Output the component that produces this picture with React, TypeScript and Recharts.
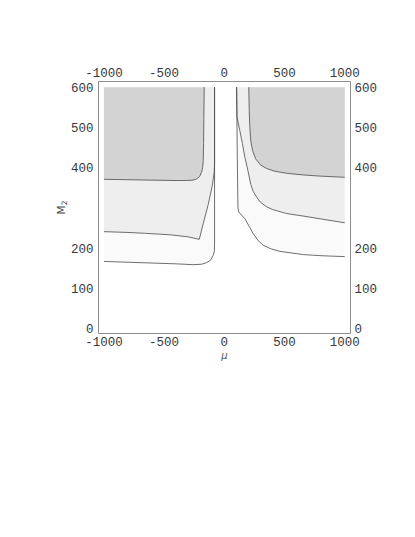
import { Area, ComposedChart, Label, Line, XAxis, YAxis } from 'recharts';

type Pt = [number, number];

// axes
const muTicks = [-1000, -500, 0, 500, 1000];
const m2Ticks = [0, 100, 200, 400, 500, 600];
const muDomain = [-1045, 1048];
const m2Domain = [-12, 614];
const m2Top = 600;

// contour lines, [mu, M2]
const level1Left: Pt[] = [[-1000, 167], [-800, 165], [-600, 163], [-400, 161], [-261, 159], [-190, 160], [-147, 164], [-115, 170], [-92, 182], [-83, 192], [-81, 210], [-81, 600]];
const level2Left: Pt[] = [[-1000, 241], [-800, 239], [-665, 237], [-444, 233], [-300, 228], [-208, 222], [-175, 261], [-134, 308], [-100, 355], [-84, 389], [-81, 410], [-81, 600]];
const level3Left: Pt[] = [[-1000, 371], [-800, 370], [-600, 369], [-400, 368], [-313, 368], [-260, 369], [-230, 372], [-205, 378], [-189, 389], [-180, 400], [-175, 418], [-172, 460], [-170, 520], [-167, 600]];
const level1Right: Pt[] = [[102, 600], [108, 420], [113, 300], [120, 290], [140, 283], [171, 273], [205, 255], [240, 236], [280, 219], [323, 207], [390, 198], [462, 192], [655, 184], [820, 181], [1000, 179]];
const level2Right: Pt[] = [[102, 600], [105, 526], [130, 490], [150, 460], [171, 425], [198, 390], [220, 358], [240, 341], [270, 326], [300, 314], [350, 303], [400, 296], [517, 286], [650, 280], [794, 273], [1000, 263]];
const level3Right: Pt[] = [[203, 600], [207, 540], [212, 500], [220, 466], [235, 442], [260, 422], [300, 407], [350, 398], [420, 391], [517, 386], [650, 382], [794, 379], [1000, 376]];

const shades = ['#fafafa', '#eeeeee', '#d3d3d3'];

const toLine = (pts: Pt[]) => pts.map(([mu, m2]) => ({ mu, m2 }));
const toBand = (pts: Pt[]) => pts.map(([mu, m2]) => ({ mu, band: [m2, m2Top] }));

const regions = [
  { pts: level1Left, fill: shades[0] },
  { pts: level1Right, fill: shades[0] },
  { pts: level2Left, fill: shades[1] },
  { pts: level2Right, fill: shades[1] },
  { pts: level3Left, fill: shades[2] },
  { pts: level3Right, fill: shades[2] },
];
const contours = [level1Left, level2Left, level3Left, level1Right, level2Right, level3Right];

const tickStyle = { fill: '#383838', fontSize: 12.5, fontFamily: 'Liberation Mono' };
const frame = { stroke: '#8c8c8c', strokeWidth: 1 };

const MuLabel = ({ viewBox }: any) => (
  <text x={viewBox.x + viewBox.width / 2} y={viewBox.y + 25} textAnchor="middle" fontSize={10} fontStyle="italic" fontFamily="DejaVu Sans" fill="#555">μ</text>
);

const M2Label = ({ viewBox }: any) => {
  const cx = viewBox.x + viewBox.width - 33.5;
  const cy = viewBox.y + viewBox.height / 2;
  return (
    <text x={cx} y={cy} transform={`rotate(-90 ${cx} ${cy})`} textAnchor="middle" fontSize={10.5} fontFamily="DejaVu Sans" fill="#444">
      M<tspan dy={2} fontSize={7.5}>2</tspan>
    </text>
  );
};

export default function App() {
  return (
    <div style={{ position: 'absolute', left: 0, top: 0, width: 415, height: 537, background: '#fff' }}>
      <ComposedChart width={415} height={537} margin={{ top: 0, right: 0, bottom: 0, left: 0 }}>
        <XAxis xAxisId="b" dataKey="mu" type="number" orientation="bottom" domain={muDomain} ticks={muTicks} interval={0} height={203.5} allowDataOverflow tickLine={false} tickSize={0} tickMargin={4} axisLine={frame} tick={tickStyle}>
          <Label content={MuLabel} />
        </XAxis>
        <XAxis xAxisId="t" dataKey="mu" type="number" orientation="top" domain={muDomain} ticks={muTicks} interval={0} height={81.5} allowDataOverflow tickLine={false} tickSize={0} tickMargin={5} axisLine={frame} tick={tickStyle} />
        <YAxis yAxisId="l" type="number" orientation="left" domain={m2Domain} ticks={m2Ticks} interval={0} width={98.5} allowDataOverflow tickLine={false} tickSize={0} tickMargin={5} axisLine={frame} tick={tickStyle}>
          <Label content={M2Label} />
        </YAxis>
        <YAxis yAxisId="r" type="number" orientation="right" domain={m2Domain} ticks={m2Ticks} interval={0} width={64.5} allowDataOverflow tickLine={false} tickSize={0} tickMargin={4} axisLine={frame} tick={tickStyle} />

        {regions.map((r, i) => (
          <Area key={`a${i}`} xAxisId="b" yAxisId="l" data={toBand(r.pts)} dataKey="band" type="linear" stroke="none" fill={r.fill} fillOpacity={1} isAnimationActive={false} activeDot={false} />
        ))}
        {contours.map((c, i) => (
          <Line key={`c${i}`} xAxisId="b" yAxisId="l" data={toLine(c)} dataKey="m2" type="linear" stroke="#4a4a4a" strokeWidth={0.8} dot={false} activeDot={false} isAnimationActive={false} />
        ))}
      </ComposedChart>
    </div>
  );
}
